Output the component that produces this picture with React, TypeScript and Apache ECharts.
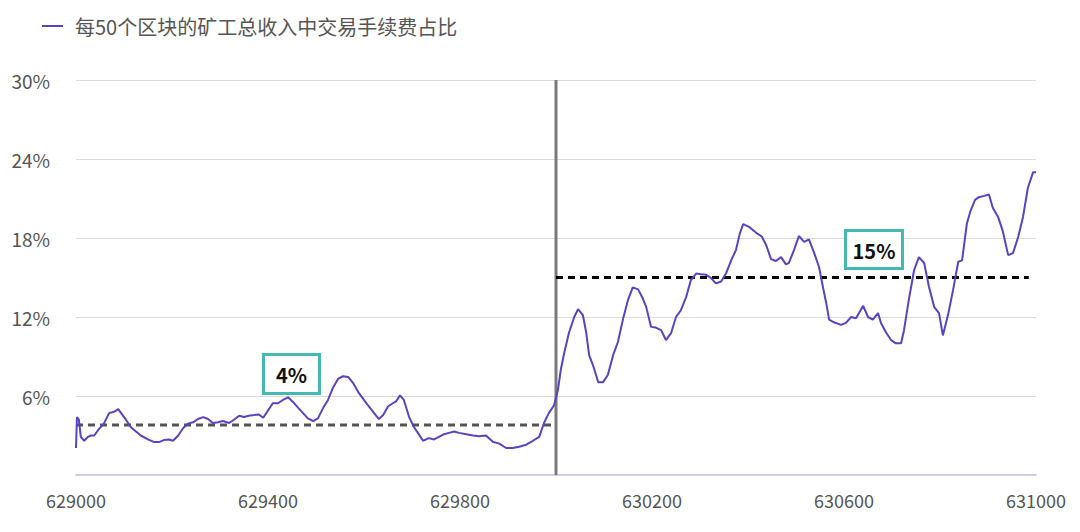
import React, { useEffect, useRef } from "react";
import * as echarts from "echarts";

// Block heights (x) and fee share % per 50 blocks (y)
const blocks = [
  629000, 629002, 629006, 629010, 629017, 629025, 629031, 629038, 629048, 629058,
  629069, 629079, 629088, 629094, 629104, 629115, 629125, 629135, 629150, 629163,
  629173, 629183, 629194, 629202, 629213, 629223, 629233, 629244, 629254, 629265,
  629275, 629285, 629296, 629306, 629319, 629329, 629340, 629350, 629360, 629371,
  629381, 629390, 629400, 629410, 629421, 629431, 629442, 629452, 629463, 629473,
  629483, 629494, 629504, 629515, 629525, 629535, 629546, 629556, 629567, 629577,
  629588, 629598, 629608, 629619, 629631, 629640, 629650, 629660, 629667, 629675,
  629683, 629694, 629704, 629715, 629723, 629735, 629746, 629756, 629767, 629777,
  629788, 629798, 629813, 629827, 629840, 629854, 629869, 629881, 629896, 629910,
  629923, 629938, 629952, 629965, 629975, 629985, 629996, 630004, 630010, 630017,
  630027, 630038, 630046, 630056, 630063, 630069, 630077, 630088, 630098, 630108,
  630119, 630129, 630140, 630150, 630160, 630171, 630181, 630188, 630198, 630208,
  630219, 630229, 630240, 630250, 630260, 630271, 630281, 630292, 630302, 630313,
  630323, 630333, 630344, 630354, 630365, 630375, 630383, 630390, 630402, 630417,
  630429, 630438, 630448, 630458, 630469, 630479, 630485, 630496, 630506, 630517,
  630527, 630538, 630548, 630556, 630563, 630569, 630579, 630594, 630604, 630615,
  630625, 630640, 630650, 630660, 630671, 630677, 630688, 630698, 630708, 630719,
  630725, 630735, 630746, 630756, 630767, 630777, 630788, 630798, 630806, 630817,
  630827, 630838, 630846, 630856, 630863, 630873, 630881, 630892, 630902, 630910,
  630921, 630931, 630942, 630952, 630963, 630973, 630983, 630994, 631000,
];

const feeShare = [
  2.05, 4.4, 4.2, 2.9, 2.6, 2.9, 3.0, 3.0, 3.5, 3.9,
  4.7, 4.8, 5.0, 4.7, 4.2, 3.6, 3.3, 3.0, 2.7, 2.5,
  2.5, 2.65, 2.7, 2.6, 3.0, 3.55, 3.9, 4.0, 4.25, 4.4,
  4.25, 3.95, 4.0, 4.1, 3.95, 4.2, 4.5, 4.4, 4.5, 4.55,
  4.6, 4.35, 4.9, 5.45, 5.45, 5.7, 5.9, 5.55, 5.1, 4.7,
  4.3, 4.1, 4.3, 5.1, 5.7, 6.6, 7.3, 7.5, 7.45, 7.0,
  6.3, 5.8, 5.3, 4.8, 4.25, 4.55, 5.2, 5.45, 5.6, 6.05,
  5.7, 4.4, 3.65, 3.05, 2.6, 2.8, 2.7, 2.9, 3.1, 3.2,
  3.3, 3.2, 3.1, 3.0, 2.95, 3.0, 2.5, 2.4, 2.05, 2.05,
  2.15, 2.3, 2.6, 2.9, 3.95, 4.7, 5.3, 6.45, 8.0, 9.25,
  10.8, 12.0, 12.6, 12.15, 10.8, 9.1, 8.35, 7.05, 7.05, 7.6,
  9.1, 10.1, 11.9, 13.3, 14.25, 14.1, 13.4, 12.75, 11.25, 11.2,
  11.0, 10.25, 10.8, 12.0, 12.5, 13.5, 14.8, 15.3, 15.25, 15.2,
  14.95, 14.55, 14.7, 15.3, 16.3, 17.1, 18.35, 19.05, 18.85, 18.4,
  18.1, 17.45, 16.4, 16.25, 16.55, 16.0, 16.1, 17.1, 18.15, 17.7,
  17.9, 16.85, 15.8, 14.3, 13.05, 11.8, 11.6, 11.4, 11.55, 12.0,
  11.9, 12.85, 12.0, 11.8, 12.3, 11.55, 10.8, 10.25, 10.0, 10.0,
  11.0, 13.3, 15.55, 16.55, 16.1, 14.3, 12.75, 12.3, 10.6, 12.2,
  14.0, 16.2, 16.3, 19.1, 20.0, 20.9, 21.1, 21.2, 21.3, 20.3,
  19.6, 18.5, 16.7, 16.85, 18.1, 19.6, 21.8, 23.0, 23.0,
];

const seriesName = "每50个区块的矿工总收入中交易手续费占比";
const xTicks = { min: 629000, max: 631000, interval: 400 };
const yTicks = { min: 0, max: 30, interval: 6 };

const splitBlock = 630000;
const avgBefore = 3.8;
const avgAfter = 15;
const avgAfterEnd = 630985;
const labelBefore = "4%";
const labelAfter = "15%";

const FONT = "'Noto Sans CJK SC', 'Noto Sans', sans-serif";

export default function App() {
  const ref = useRef<HTMLDivElement>(null);

  useEffect(() => {
    if (!ref.current) return;
    const chart = echarts.init(ref.current, null, { renderer: "svg" });
    const teal = "#45b8b4";
    const option = {
      animation: false,
      backgroundColor: "#ffffff",
      textStyle: { fontFamily: FONT },
      grid: { left: 76, right: 44, top: 80, bottom: 57, containLabel: false },
      legend: {
        left: 37,
        top: 11,
        icon: "rect",
        itemWidth: 21,
        itemHeight: 2,
        data: [seriesName],
        textStyle: { fontSize: 20, color: "#555", fontFamily: FONT, padding: [0, 0, 0, 7] },
      },
      xAxis: {
        type: "value",
        min: xTicks.min,
        max: xTicks.max,
        interval: xTicks.interval,
        axisLine: { show: true, lineStyle: { color: "#d2cdea", width: 2 } },
        axisTick: { show: false },
        splitLine: { show: false },
        axisLabel: {
          color: "#555",
          fontSize: 18,
          margin: 16,
          fontFamily: FONT,
          formatter: (v: number) => String(v),
        },
      },
      yAxis: {
        type: "value",
        min: yTicks.min,
        max: yTicks.max,
        interval: yTicks.interval,
        axisLine: { show: false },
        axisTick: { show: false },
        splitLine: { lineStyle: { color: "#dcdcdc", width: 1 } },
        axisLabel: {
          color: "#555",
          fontSize: 19,
          margin: 26,
          fontFamily: FONT,
          formatter: (v: number) => (v === 0 ? "" : v + "%"),
        },
      },
      series: [
        {
          name: seriesName,
          type: "line",
          data: blocks.map((b, i) => [b, feeShare[i]]),
          showSymbol: false,
          symbol: "none",
          lineStyle: { color: "#5a42c2", width: 2 },
          itemStyle: { color: "#5a42c2" },
          z: 3,
        },
        {
          name: "split",
          type: "line",
          data: [
            [splitBlock, yTicks.min],
            [splitBlock, yTicks.max],
          ],
          symbol: "none",
          lineStyle: { color: "#7a7a7a", width: 3 },
          z: 2,
          silent: true,
        },
        {
          name: "avgBefore",
          type: "line",
          data: [
            [xTicks.min, avgBefore],
            [splitBlock, avgBefore],
          ],
          symbol: "none",
          lineStyle: { color: "#555555", width: 3, type: [7, 5] },
          z: 2,
          silent: true,
        },
        {
          name: "avgAfter",
          type: "line",
          data: [
            [splitBlock, avgAfter],
            [avgAfterEnd, avgAfter],
          ],
          symbol: "none",
          lineStyle: { color: "#000000", width: 3, type: [7, 5] },
          z: 2,
          silent: true,
        },
      ],
      graphic: [
        {
          type: "rect",
          shape: { x: 263.5, y: 354.5, width: 56, height: 39 },
          style: { fill: "#ffffff", stroke: teal, lineWidth: 3 },
          z: 10,
        },
        {
          type: "text",
          x: 291.5,
          y: 374,
          style: {
            text: labelBefore,
            fill: "#111",
            font: `bold 20px ${FONT}`,
            align: "center",
            verticalAlign: "middle",
          },
          z: 11,
        },
        {
          type: "rect",
          shape: { x: 845.5, y: 230.5, width: 57, height: 38 },
          style: { fill: "#ffffff", stroke: teal, lineWidth: 3 },
          z: 10,
        },
        {
          type: "text",
          x: 874,
          y: 250,
          style: {
            text: labelAfter,
            fill: "#111",
            font: `bold 20px ${FONT}`,
            align: "center",
            verticalAlign: "middle",
          },
          z: 11,
        },
      ],
    };
    chart.setOption(option);
    return () => chart.dispose();
  }, []);

  return (
    <div
      ref={ref}
      style={{ position: "fixed", left: 0, top: 0, width: 1080, height: 532, background: "#fff" }}
    />
  );
}
